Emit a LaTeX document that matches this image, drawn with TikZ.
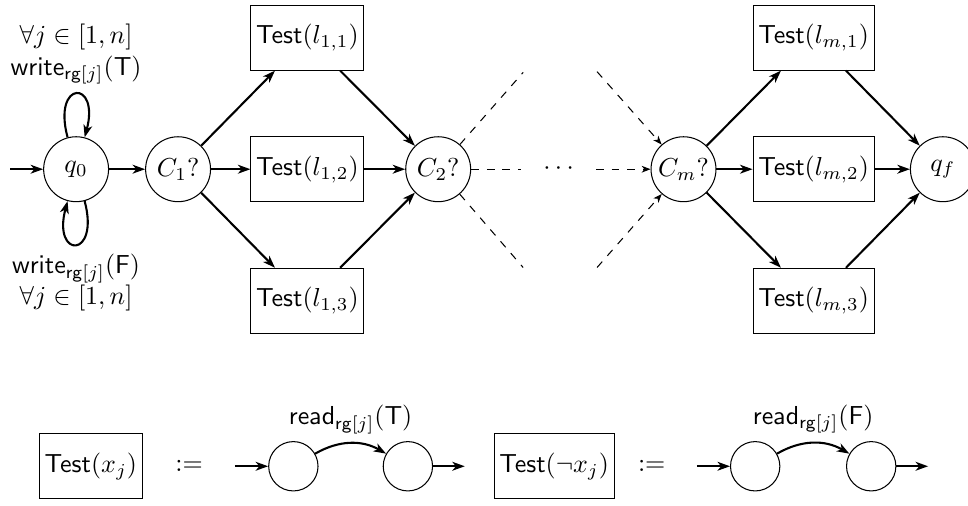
\documentclass[tikz,border=0pt]{standalone}
\usetikzlibrary{arrows.meta}
\begin{document}
\begin{tikzpicture}[>={Stealth[length=4.8pt,width=3.4pt,inset=1.4pt]},
    place/.style={circle,draw,minimum size=25pt,inner sep=1pt},
    cell/.style={circle,draw,minimum size=19pt},
    testbox/.style={rectangle,draw,minimum height=25pt,inner xsep=2pt},
    arr/.style={->,thick},
    darr/.style={dashed,-{Stealth[length=3.4pt,width=2.6pt,inset=1pt]}},
    every loop/.style={min distance=6.5mm,looseness=9}]
    \useasboundingbox (-1.03,2.29) rectangle (12.07,-4.55);
    %Initial state and loops
    \node[place] (q0) at (0,0) {$q_0$};
    \coordinate (init) at (-0.89,0);
    \draw[arr] (init) -- (q0);
    \draw[arr] (q0) to[loop above] node[above,align=center] {$\forall j\in[1,n]$\\$\mathsf{write}_{\mathsf{rg}[j]}(\mathsf{T})$} (q0);
    \draw[arr] (q0) to[loop below] node[below,align=center] {$\mathsf{write}_{\mathsf{rg}[j]}(\mathsf{F})$\\$\forall j\in[1,n]$} (q0);
    %Clause 1
    \node[place] (c1) at (1.38,0) {$C_1?$};
    \node[testbox] (t11) at (3.13,1.78) {$\mathsf{Test}(l_{1,1})$};
    \node[testbox] (t12) at (3.13,0) {$\mathsf{Test}(l_{1,2})$};
    \node[testbox] (t13) at (3.13,-1.78) {$\mathsf{Test}(l_{1,3})$};
    \node[place] (c2) at (4.90,0) {$C_2?$};
    \draw[arr] (q0) -- (c1);
    \foreach \t in {t11,t12,t13} {
        \draw[arr] (c1) -- (\t);
        \draw[arr] (\t) -- (c2);
    }
    %Dots
    \node[minimum width=1cm] (dots) at (6.53,0) {$\cdots$};
    \coordinate (up1) at (6.05,1.31);
    \coordinate (up2) at (7.05,1.32);
    \coordinate (dn1) at (6.05,-1.33);
    \coordinate (dn2) at (7.05,-1.33);
    \node[place] (cm) at (8.22,0) {$C_m?$};
    \draw[dashed] (c2) -- (up1);
    \draw[dashed] (c2) -- (dots);
    \draw[dashed] (c2) -- (dn1);
    \draw[darr] (up2) -- (cm);
    \draw[darr] (dots) -- (cm);
    \draw[darr] (dn2) -- (cm);
    %Clause m
    \node[testbox] (tm1) at (9.98,1.78) {$\mathsf{Test}(l_{m,1})$};
    \node[testbox] (tm2) at (9.98,0) {$\mathsf{Test}(l_{m,2})$};
    \node[testbox] (tm3) at (9.98,-1.78) {$\mathsf{Test}(l_{m,3})$};
    \node[place] (qf) at (11.73,0) {$q_f$};
    \foreach \t in {tm1,tm2,tm3} {
        \draw[arr] (cm) -- (\t);
        \draw[arr] (\t) -- (qf);
    }
    %Test(x_j)
    \node[testbox] (tx) at (0.20,-4.02) {$\mathsf{Test}(x_j)$};
    \node (def1) at (1.53,-4.02) {$:=$};
    \coordinate (in1) at (2.15,-4.02);
    \node[cell] (a1) at (2.94,-4.02) {};
    \node[cell] (a2) at (4.49,-4.02) {};
    \coordinate (out1) at (5.26,-4.02);
    \draw[arr] (in1) -- (a1);
    \draw[arr] (a1) to[bend left=30] node[above] {$\mathsf{read}_{\mathsf{rg}[j]}(\mathsf{T})$} (a2);
    \draw[arr] (a2) -- (out1);
    %Test(not x_j)
    \node[testbox] (tnx) at (6.47,-4.02) {$\mathsf{Test}(\neg x_j)$};
    \node (def2) at (7.79,-4.02) {$:=$};
    \coordinate (in2) at (8.40,-4.02);
    \node[cell] (b1) at (9.19,-4.02) {};
    \node[cell] (b2) at (10.76,-4.02) {};
    \coordinate (out2) at (11.53,-4.02);
    \draw[arr] (in2) -- (b1);
    \draw[arr] (b1) to[bend left=30] node[above] {$\mathsf{read}_{\mathsf{rg}[j]}(\mathsf{F})$} (b2);
    \draw[arr] (b2) -- (out2);
\end{tikzpicture}
\end{document}
